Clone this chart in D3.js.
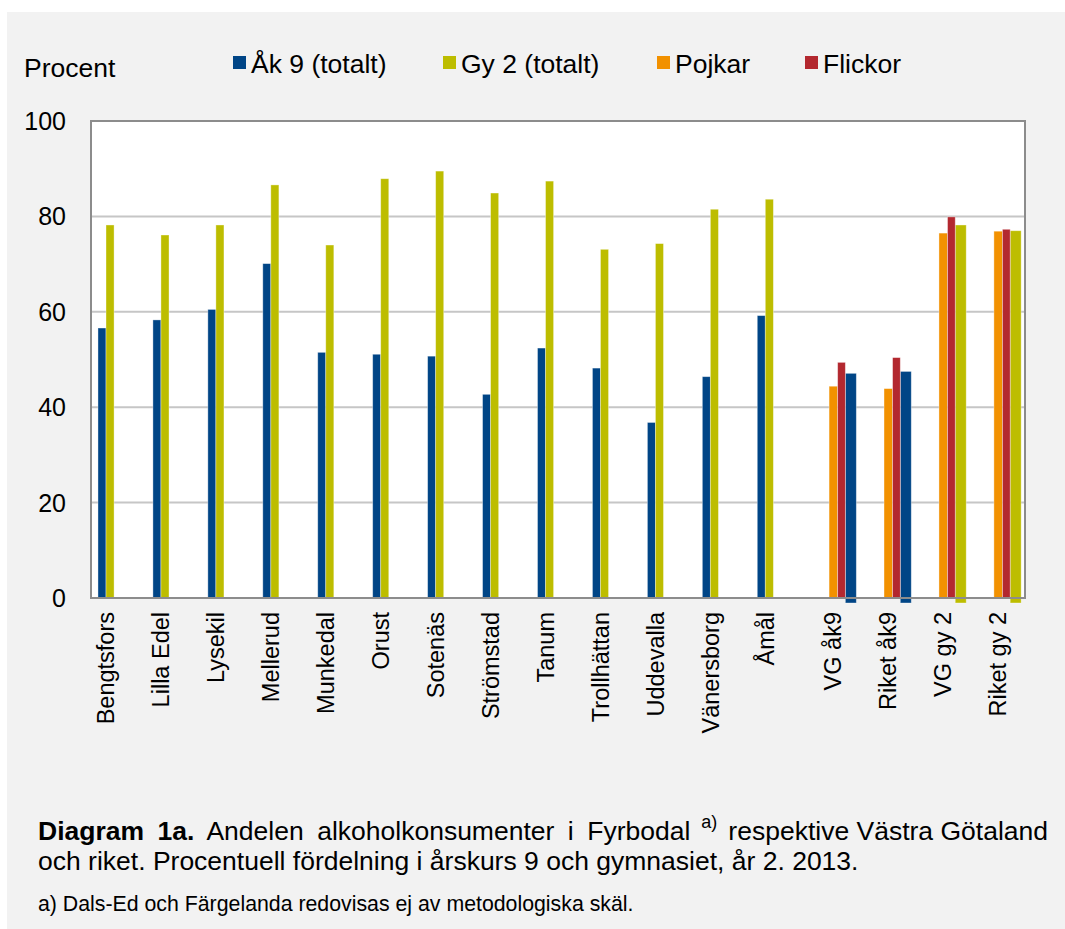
<!DOCTYPE html>
<html>
<head>
<meta charset="utf-8">
<script src="https://cdn.jsdelivr.net/npm/d3@7"></script>
<style>
	body { margin: 0; background: #ffffff; }
	svg text { font-family: "Liberation Sans", Arial, sans-serif; fill: #000; }
</style>
</head>
<body>
<div id="c-svg-01"></div>
<script>

//data
const categories = ["Bengtsfors", "Lilla Edel", "Lysekil", "Mellerud", "Munkedal", "Orust", "Sotenäs",
	"Strömstad", "Tanum", "Trollhättan", "Uddevalla", "Vänersborg", "Åmål",
	"VG åk9", "Riket åk9", "VG gy 2", "Riket gy 2"];

const ak9 = [56.6, 58.3, 60.5, 70.1, 51.5, 51.1, 50.7, 42.7, 52.4, 48.2, 36.8, 46.4, 59.2, 47.1, 47.5, null, null];
const gy2 = [78.2, 76.1, 78.2, 86.6, 74.0, 87.9, 89.5, 84.9, 87.4, 73.1, 74.3, 81.5, 83.6, null, null, 78.2, 77.0];
const pojkar = [null, null, null, null, null, null, null, null, null, null, null, null, null, 44.4, 43.9, 76.5, 76.9];
const flickor = [null, null, null, null, null, null, null, null, null, null, null, null, null, 49.4, 50.4, 79.9, 77.3];

const seriesNames = ["Åk 9 (totalt)", "Gy 2 (totalt)", "Pojkar", "Flickor"];
const seriesKeys = ["ak9", "gy2", "pojkar", "flickor"];
const yTicks = [0, 20, 40, 60, 80, 100];

function graph1(){

	const width = 1065;
	const height = 929;

	let svg = d3.select("#c-svg-01")
		.append("svg")
		.attr("width", width)
		.attr("height", height);

	//panel background
	svg.append("rect")
		.attr("x", 7)
		.attr("y", 12)
		.attr("width", width - 7)
		.attr("height", height - 12)
		.attr("fill", "#f2f2f2");

	let color = d3.scaleOrdinal()
		.domain(seriesKeys)
		.range(["#004586", "#bdbd00", "#f29100", "#b3282f"]);

	let x = d3.scaleBand()
		.domain(categories)
		.range([91, 1025]);

	let y = d3.scaleLinear()
		.domain([0, 100])
		.range([598, 121]);

	//plot area
	svg.append("rect")
		.attr("x", x.range()[0])
		.attr("y", y(100))
		.attr("width", x.range()[1] - x.range()[0])
		.attr("height", y(0) - y(100))
		.attr("fill", "#ffffff");

	//gridlines
	svg.append("g")
		.selectAll("line")
		.data(yTicks.filter((d)=>{return d > 0 && d < 100;}))
		.enter().append("line")
		.attr("x1", x.range()[0])
		.attr("x2", x.range()[1])
		.attr("y1", (d)=>{return y(d);})
		.attr("y2", (d)=>{return y(d);})
		.attr("stroke", "#c6c6c6")
		.attr("stroke-width", 2);

	//y tick labels
	svg.append("g")
		.selectAll("text")
		.data(yTicks)
		.enter().append("text")
		.attr("x", 66)
		.attr("y", (d)=>{return y(d);})
		.attr("dy", "0.36em")
		.attr("text-anchor", "end")
		.style("font-size", "25px")
		.text((d)=>{return d;});

	//flatten the series into bars
	let bars = [];
	categories.forEach((c, i)=>{
		let jamf = pojkar[i] !== null;
		[["ak9", ak9], ["gy2", gy2], ["pojkar", pojkar], ["flickor", flickor]].forEach((s)=>{
			if(s[1][i] !== null){
				bars.push({cat: c, key: s[0], value: s[1][i], jamf: jamf});
			}
		});
	});

	//where in the band each bar sits (fractions of band width)
	const slotsKommun = {ak9: [0.127, 0.273], gy2: [0.273, 0.42]};
	const slotsJamf = {pojkar: [0.434, 0.59], flickor: [0.59, 0.73], ak9: [0.73, 0.93], gy2: [0.73, 0.93]};

	function slot(d){
		return (d.jamf ? slotsJamf : slotsKommun)[d.key];
	}

	let bw = x.bandwidth();

	svg.append("g")
		.selectAll("rect")
		.data(bars)
		.enter().append("rect")
		.attr("x", (d)=>{return x(d.cat) + slot(d)[0]*bw;})
		.attr("width", (d)=>{return (slot(d)[1] - slot(d)[0])*bw;})
		.attr("y", (d)=>{return y(d.value);})
		.attr("height", (d)=>{
			//totals in the comparison groups hang a little below the axis
			let extra = (d.jamf && (d.key == "ak9" || d.key == "gy2")) ? 5 : 0;
			return y(0) - y(d.value) + extra;
		})
		.attr("fill", (d)=>{return color(d.key);})
		.attr("stroke", "rgba(255,255,255,0.45)")
		.attr("stroke-width", 0.8);

	//plot border
	svg.append("rect")
		.attr("x", x.range()[0])
		.attr("y", y(100))
		.attr("width", x.range()[1] - x.range()[0])
		.attr("height", y(0) - y(100))
		.attr("fill", "none")
		.attr("stroke", "#8c8c8c")
		.attr("stroke-width", 2);

	//x labels, rotated
	svg.append("g")
		.selectAll("text")
		.data(categories)
		.enter().append("text")
		.attr("transform", (d, i)=>{
			let pos = pojkar[i] !== null ? 0.5 : 0.273;
			return "translate(" + (x(d) + pos*bw) + "," + 612 + ") rotate(-90)";
		})
		.attr("dy", "0.36em")
		.attr("text-anchor", "end")
		.style("font-size", "23.5px")
		.text((d)=>{return d;});

	//y axis title
	svg.append("text")
		.attr("x", 24)
		.attr("y", 77)
		.style("font-size", "26.5px")
		.text("Procent");

	//legend
	const legendX = [233, 443, 657, 805];
	let legend = svg.append("g")
		.selectAll("g")
		.data(seriesKeys)
		.enter().append("g")
		.attr("transform", (d, i)=>{return "translate(" + legendX[i] + ",56)";});

	legend.append("rect")
		.attr("width", 13)
		.attr("height", 13)
		.attr("fill", (d)=>{return color(d);});

	legend.append("text")
		.attr("x", 18)
		.attr("y", 7)
		.attr("dy", "0.36em")
		.style("font-size", "26.5px")
		.text((d, i)=>{return seriesNames[i];});

	//caption, first line justified
	let capRight = svg.append("text")
		.attr("x", 1048)
		.attr("y", 840)
		.attr("text-anchor", "end")
		.style("font-size", "26.5px")
		.text("respektive Västra Götaland");

	let rightStart = 1048 - capRight.node().getComputedTextLength();

	let cap1 = svg.append("text")
		.attr("x", 38)
		.attr("y", 840)
		.style("font-size", "26.5px");
	cap1.append("tspan")
		.style("font-weight", "bold")
		.text("Diagram 1a.");
	cap1.append("tspan")
		.text(" Andelen alkoholkonsumenter i Fyrbodal");

	//spread the words a little so the left part ends just before the superscript
	let capEnd = 38 + cap1.node().getComputedTextLength();
	let spread = Math.max(0, (rightStart - 38 - capEnd) / 5);
	cap1.style("word-spacing", spread + "px");
	let capBox = cap1.node().getBBox();
	capEnd = capBox.x + capBox.width;

	svg.append("text")
		.attr("x", (capEnd + rightStart)/2)
		.attr("y", 828)
		.attr("text-anchor", "middle")
		.style("font-size", "18px")
		.text("a)");

	svg.append("text")
		.attr("x", 38)
		.attr("y", 870)
		.style("font-size", "26.5px")
		.text("och riket. Procentuell fördelning i årskurs 9 och gymnasiet, år 2. 2013.");

	svg.append("text")
		.attr("x", 38)
		.attr("y", 911)
		.style("font-size", "21.3px")
		.text("a) Dals-Ed och Färgelanda redovisas ej av metodologiska skäl.");

} //function graph1

graph1();

</script>
</body>
</html>
